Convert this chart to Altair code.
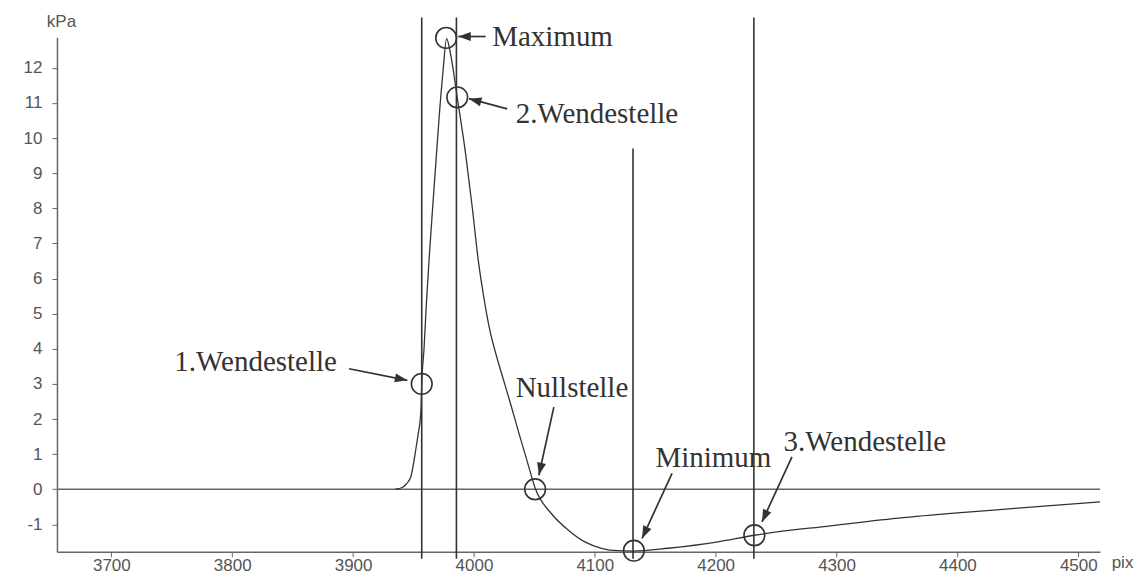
import math
import altair as alt
import pandas as pd

# ---- data ----
curve_x = [3935, 3940.7, 3944, 3947.7, 3951.8, 3954, 3955.5, 3956.2, 3956.8, 3958.7, 3960.5, 3963, 3966,
           3968.5, 3971, 3974.4, 3977.4, 3980.7, 3986.2, 3993.1, 3998.6, 4003.6, 4008, 4013, 4019,
           4025, 4031, 4037.2, 4044, 4051, 4064, 4077.9, 4091.7, 4105.5, 4119, 4131.6, 4160.6, 4202,
           4232, 4295, 4351, 4400, 4450, 4518]
curve_y = [0, 0.05, 0.15, 0.35, 1.11, 1.6, 1.96, 2.3, 3.0, 4.0, 5.2, 6.6, 8.1,
           9.3, 10.5, 11.9, 12.83, 12.38, 11.15, 9.55, 8.03, 6.51, 5.5, 4.55, 3.75,
           3.05, 2.35, 1.6, 0.8, 0, -0.69, -1.16, -1.5, -1.68, -1.75, -1.76, -1.68, -1.5,
           -1.31, -1.04, -0.82, -0.67, -0.54, -0.36]

vline_x = [3956.8, 3985.5, 4131.6, 4231.6]
vline_top = [13.43, 13.43, 9.7, 13.43]
vline_bottom = [-1.98, -1.98, -1.98, -1.98]

marker_x = [3956.8, 3977.0, 3986.2, 4050.6, 4132.3, 4232.0]
marker_y = [3.0, 12.85, 11.16, 0.0, -1.75, -1.31]

label_text = ["1.Wendestelle", "Maximum", "2.Wendestelle", "Nullstelle", "Minimum", "3.Wendestelle"]
label_x = [3752.1, 4015.1, 4034.5, 4034.5, 4150.2, 4256.2]
label_y = [3.62, 12.89, 10.69, 2.87, 0.88, 1.35]

arrow_x1 = [3896.7, 4009.7, 4027.5, 4066.1, 4163.9, 4263.1]
arrow_y1 = [3.43, 12.89, 10.83, 2.34, 0.45, 0.92]
arrow_x2 = [3944.9, 3987.0, 3995.9, 4053.7, 4139.1, 4238.3]
arrow_y2 = [3.10, 12.89, 11.12, 0.40, -1.40, -0.93]

x_ticks = [3700, 3800, 3900, 4000, 4100, 4200, 4300, 4400, 4500]
y_ticks = [-1, 0, 1, 2, 3, 4, 5, 6, 7, 8, 9, 10, 11, 12]

# ---- layout ----
W, H = 1044, 515
XMIN, XMAX = 3655, 4518
YMIN, YMAX = -1.78, 12.87
INK = "#333333"
AXC = "#666666"
LAB = "#555555"

curve = pd.DataFrame({"x": curve_x, "y": curve_y})
vlines = pd.DataFrame({"x": vline_x, "y": vline_top, "y2": vline_bottom})
markers = pd.DataFrame({"x": marker_x, "y": marker_y})
labels = pd.DataFrame({"x": label_x, "y": label_y, "t": label_text})
kx = W / (XMAX - XMIN)
ky = H / (YMAX - YMIN)
angles = []
for a, b, c, d in zip(arrow_x1, arrow_y1, arrow_x2, arrow_y2):
    dx = (c - a) * kx
    dy = -(d - b) * ky
    angles.append(math.degrees(math.atan2(dx, -dy)) % 360)
arrows = pd.DataFrame({"x": arrow_x1, "y": arrow_y1, "x2": arrow_x2, "y2": arrow_y2, "angle": angles})
zero = pd.DataFrame({"y": [0]})

xscale = alt.Scale(domain=[XMIN, XMAX], nice=False, zero=False)
yscale = alt.Scale(domain=[YMIN, YMAX], nice=False, zero=False)
xaxis = alt.Axis(values=x_ticks, labelExpr="'' + datum.value", grid=False, domainColor=AXC,
                 domainWidth=1.5, tickColor=AXC, tickSize=5, tickWidth=1,
                 labelFont="Liberation Sans", labelFontSize=17, labelColor=LAB, labelPadding=1,
                 title="pix", titleFont="Liberation Sans", titleFontSize=17,
                 titleFontWeight="normal", titleColor=LAB, titleX=1066, titleY=11,
                 titleAlign="center", titleBaseline="middle", titleAngle=0)
yaxis = alt.Axis(values=y_ticks, labelExpr="'' + datum.value", grid=False, domainColor=AXC,
                 domainWidth=1.5, tickColor=AXC, tickSize=5, tickWidth=1,
                 labelFont="Liberation Sans", labelFontSize=17, labelColor=LAB, labelPadding=10,
                 title="kPa", titleFont="Liberation Sans", titleFontSize=17,
                 titleFontWeight="normal", titleColor=LAB, titleX=4, titleY=-16,
                 titleAlign="center", titleBaseline="middle", titleAngle=0)


def X(f):
    return alt.X(f, type="quantitative", scale=xscale, axis=xaxis)


def Y(f):
    return alt.Y(f, type="quantitative", scale=yscale, axis=yaxis)


line = alt.Chart(curve).mark_line(color=INK, strokeWidth=1.3, interpolate="monotone").encode(
    x=X("x"), y=Y("y"))
zline = alt.Chart(zero).mark_rule(color=AXC, strokeWidth=1.5).encode(y=Y("y"))
vl = alt.Chart(vlines).mark_rule(color=INK, strokeWidth=1.6).encode(x=X("x"), y=Y("y"), y2="y2")
circ = alt.Chart(markers).mark_point(shape="circle", filled=False, size=430, color=INK,
                                     strokeWidth=1.6, opacity=1).encode(x=X("x"), y=Y("y"))
shaft = alt.Chart(arrows).mark_rule(color=INK, strokeWidth=1.7).encode(
    x=X("x"), y=Y("y"), x2="x2", y2="y2")
head = alt.Chart(arrows).mark_point(shape="M0,0 L0.36,1 L-0.36,1 Z", filled=True, size=625,
                                    color=INK, opacity=1).encode(
    x=X("x2"), y=Y("y2"), angle=alt.Angle("angle:Q", scale=None))
txt = alt.Chart(labels).mark_text(align="left", baseline="middle", font="Liberation Serif",
                                  fontSize=29, color=INK).encode(x=X("x"), y=Y("y"), text="t:N")

chart = alt.layer(zline, vl, line, circ, shaft, head, txt).properties(
    width=W, height=H,
    autosize=alt.AutoSizeParams(type="none"),
    padding={"left": 49, "top": 29, "right": 38, "bottom": 22},
    background="white",
).configure_view(stroke=None)

chart.save("out.html", embed_options={"renderer": "svg", "actions": False})
